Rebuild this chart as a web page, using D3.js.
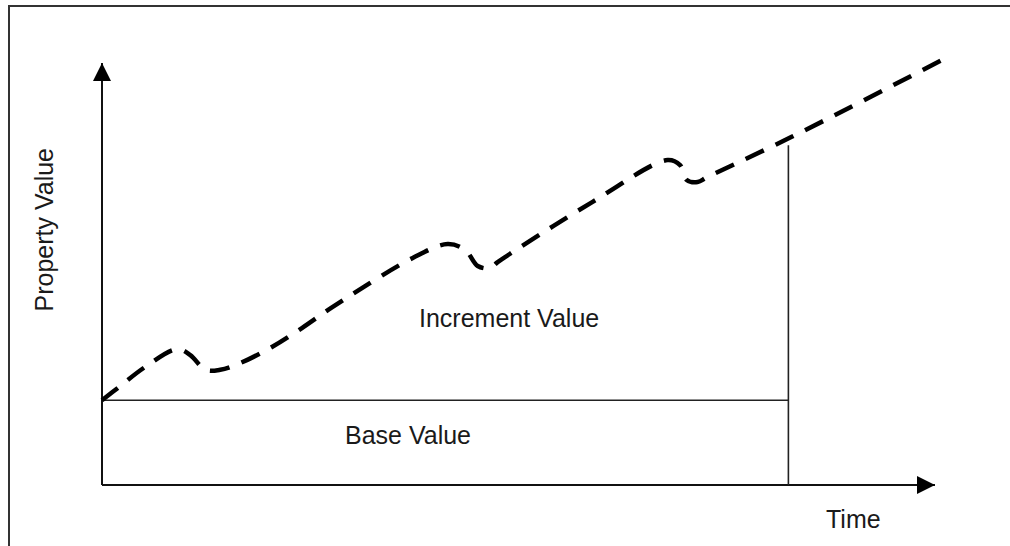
<!DOCTYPE html>
<html>
<head>
<meta charset="utf-8">
<script src="https://cdn.jsdelivr.net/npm/d3@7"></script>
<style>
  html, body { margin: 0; padding: 0; background: #fff; overflow: hidden; }
  svg { display: block; }
  text { font-family: "Liberation Sans", Arial, sans-serif; fill: #1a1a1a; }
</style>
</head>
<body>
<svg id="viz"></svg>
<script>
// property value over time (both axes in arbitrary units, 0..100)
var timePts  = [0, 1.9, 5.2, 9.0, 10.6, 12.4, 14.2, 16.6, 20.4, 24.0, 27.7, 37.3, 41.5, 43.6, 45.1, 46.6, 47.5, 58.9, 67.9, 69.4, 70.2, 71.5, 72.7, 82.8, 102.0];
var valuePts = [20.1, 23.0, 28.0, 32.2, 30.8, 27.3, 27.3, 28.9, 32.7, 37.2, 42.2, 53.8, 57.1, 55.7, 51.9, 51.4, 52.8, 67.1, 77.0, 75.8, 72.3, 71.8, 73.0, 82.5, 101.9];

var baseValue = 20.1;   // horizontal line
var saleTime = 82.4;    // vertical line
var saleTop = 80.5;

var axisLabels = { x: "Time", y: "Property Value" };
var areaLabels = ["Increment Value", "Base Value"];

var width = 1010, height = 546;

var x = d3.scaleLinear().domain([0, 100]).range([102, 935]);
var y = d3.scaleLinear().domain([0, 100]).range([485, 63]);

var svg = d3.select("#viz")
    .attr("width", width)
    .attr("height", height);

// frame, only top and left edges are in view
svg.append("path")
    .attr("d", "M9," + height + " V6 H" + width)
    .attr("fill", "none")
    .attr("stroke", "#333")
    .attr("stroke-width", 2);

var defs = svg.append("defs");
defs.append("marker")
    .attr("id", "arrow")
    .attr("viewBox", "0 0 18 18")
    .attr("refX", 18)
    .attr("refY", 9)
    .attr("markerWidth", 18)
    .attr("markerHeight", 18)
    .attr("markerUnits", "userSpaceOnUse")
    .attr("orient", "auto")
    .append("path")
    .attr("d", "M0,0 L18,9 L0,18 Z")
    .attr("fill", "#000");

// axes
svg.append("line")
    .attr("x1", x(0)).attr("y1", y(0))
    .attr("x2", x(100)).attr("y2", y(0))
    .attr("stroke", "#111").attr("stroke-width", 2)
    .attr("marker-end", "url(#arrow)");

svg.append("line")
    .attr("x1", x(0)).attr("y1", y(0))
    .attr("x2", x(0)).attr("y2", y(100))
    .attr("stroke", "#111").attr("stroke-width", 2)
    .attr("marker-end", "url(#arrow)");

// base value line and sale line
svg.append("line")
    .attr("x1", x(0)).attr("y1", y(baseValue))
    .attr("x2", x(saleTime)).attr("y2", y(baseValue))
    .attr("stroke", "#222").attr("stroke-width", 1.6);

svg.append("line")
    .attr("x1", x(saleTime)).attr("y1", y(0))
    .attr("x2", x(saleTime)).attr("y2", y(saleTop))
    .attr("stroke", "#222").attr("stroke-width", 1.6);

// dashed value curve
var pts = timePts.map(function(t, i) { return [t, valuePts[i]]; });

var line = d3.line()
    .x(d => x(d[0]))
    .y(d => y(d[1]))
    .curve(d3.curveCatmullRom.alpha(0.5));

svg.append("path")
    .datum(pts)
    .attr("d", line)
    .attr("fill", "none")
    .attr("stroke", "#000")
    .attr("stroke-width", 4.5)
    .attr("stroke-dasharray", "20,13");

// labels
svg.append("text")
    .attr("transform", "translate(53," + 148 + ") rotate(-90)")
    .attr("text-anchor", "end")
    .style("font-size", "25px")
    .text(axisLabels.y);

svg.append("text")
    .attr("x", 826)
    .attr("y", 528)
    .style("font-size", "25px")
    .text(axisLabels.x);

svg.append("text")
    .attr("x", 419)
    .attr("y", 327)
    .style("font-size", "25px")
    .text(areaLabels[0]);

svg.append("text")
    .attr("x", 345)
    .attr("y", 444)
    .style("font-size", "25px")
    .text(areaLabels[1]);
</script>
</body>
</html>
